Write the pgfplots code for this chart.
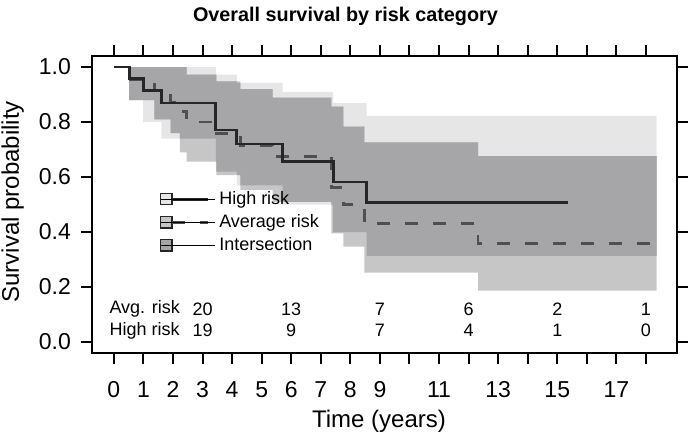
\documentclass[border=0pt]{standalone}
\usepackage{fontspec}
\setmainfont{Liberation Sans}
\usepackage{pgfplots}
\pgfplotsset{compat=1.18}
\usepgfplotslibrary{fillbetween}
\definecolor{lightc}{HTML}{E6E6E6}
\definecolor{medc}{HTML}{C6C6C6}
\definecolor{darkc}{HTML}{A6A6A8}
\definecolor{hic}{HTML}{262626}
\definecolor{avc}{HTML}{4F4F4F}
\begin{document}
\begin{tikzpicture}
\begin{axis}[
 at={(0pt,0pt)}, anchor=south west,
 scale only axis, width=292.5pt, height=148.5pt,
 xmin=-0.74, xmax=19.05, ymin=-0.04, ymax=1.04,
 xtick={0,...,18},
 xticklabels={0,1,2,3,4,5,6,7,8,9,,11,,13,,15,,17,},
 ytick={0,0.2,0.4,0.6,0.8,1.0},
 yticklabels={0.0,0.2,0.4,0.6,0.8,1.0},
 tick pos=both, tick align=outside,
 major tick length=5.5pt,
 every tick/.style={black, line width=1pt},
 axis line style={line width=1.3pt},
 ticklabel style={font=\fontsize{11.5}{13}\selectfont},
 xticklabel style={anchor=base, yshift=-16.5pt, text height=8pt, text depth=0pt},
 yticklabel style={xshift=-1.5pt},
 /pgf/number format/assume math mode=true,
 xlabel={Time (years)},
 xlabel style={at={(0.4906,-0.2525)}, anchor=base, font=\fontsize{12}{14}\selectfont},
 ylabel={Survival probability},
 ylabel style={at={(-0.1248,0.509)}, anchor=base, font=\fontsize{12}{14}\selectfont},
 legend style={at={(0.116,0.44)}, anchor=west, draw=none, fill=none, inner sep=0pt,
   font=\fontsize{9}{10}\selectfont, row sep=-0.5pt},
 legend cell align=left,
]
\addlegendimage{legend image code/.code={
  \draw[fill=lightc, draw=black!85, line width=0.6pt] (0pt,-2.8pt) rectangle (5.6pt,2.8pt);
  \draw[hic, line width=1.5pt] (5.6pt,0pt) -- (23.6pt,0pt);
  \path (0pt,0pt) -- (27pt,0pt);}}
\addlegendentry{High risk}
\addlegendimage{legend image code/.code={
  \draw[fill=medc, draw=black!85, line width=0.6pt] (0pt,-2.8pt) rectangle (5.6pt,2.8pt);
  \draw[avc, line width=1.5pt, dash pattern=on 6.5pt off 7.5pt] (5.6pt,0pt) -- (23.6pt,0pt);
  \path (0pt,0pt) -- (27pt,0pt);}}
\addlegendentry{Average risk}
\addlegendimage{legend image code/.code={
  \draw[fill=darkc, draw=black!85, line width=0.6pt] (0pt,-2.8pt) rectangle (5.6pt,2.8pt);
  \path (0pt,0pt) -- (27pt,0pt);}}
\addlegendentry{Intersection}

% High risk band
\addplot[forget plot, name path=uh, const plot, draw=none] coordinates {(0.52,1.0) (3.45,0.972) (4.16,0.942) (5.71,0.91) (7.42,0.869) (8.55,0.822) (18.36,0.822)};
\addplot[forget plot, name path=lh, const plot, draw=none] coordinates {(0.52,0.88) (0.99,0.80) (1.61,0.74) (3.45,0.62) (4.16,0.57) (5.71,0.50) (7.42,0.40) (8.55,0.313) (18.36,0.313)};
\addplot[forget plot, fill=lightc, draw=none] fill between[of=uh and lh];
% Average risk band
\addplot[forget plot, name path=ua, const plot, draw=none] coordinates {(0.52,1.0) (2.46,0.972) (3.47,0.948) (4.28,0.92) (5.37,0.889) (7.36,0.856) (7.76,0.783) (8.47,0.726) (12.32,0.676) (18.36,0.676)};
\addplot[forget plot, name path=la, const plot, draw=none] coordinates {(0.52,0.88) (1.37,0.81) (1.92,0.76) (2.23,0.69) (2.46,0.656) (3.47,0.607) (4.28,0.553) (5.37,0.51) (7.36,0.395) (7.76,0.347) (8.47,0.252) (12.32,0.187) (18.36,0.187)};
\addplot[forget plot, fill=medc, draw=none] fill between[of=ua and la];
% Intersection
\addplot[forget plot, name path=iu, const plot, draw=none] coordinates {(0.52,1.0) (2.46,0.972) (3.47,0.948) (4.16,0.942) (4.28,0.92) (5.37,0.889) (7.36,0.856) (7.76,0.783) (8.47,0.726) (12.32,0.676) (18.36,0.676)};
\addplot[forget plot, name path=il, const plot, draw=none] coordinates {(0.52,0.88) (1.37,0.81) (1.92,0.76) (2.23,0.74) (3.45,0.656) (3.47,0.62) (4.16,0.607) (4.28,0.57) (5.71,0.51) (7.36,0.50) (7.42,0.40) (8.55,0.313) (18.36,0.313)};
\addplot[forget plot, fill=darkc, draw=none] fill between[of=iu and il];

% Average risk KM
\addplot[forget plot, const plot, avc, line width=1.4pt, dash pattern=on 6.5pt off 7.5pt] coordinates {(0,1.0) (0.52,0.955) (1.37,0.914) (1.92,0.872) (2.23,0.839) (2.46,0.80) (3.47,0.758) (4.28,0.716) (5.37,0.674) (7.36,0.562) (7.76,0.50) (8.47,0.43) (12.32,0.357) (18.3,0.357)};
% High risk KM
\addplot[forget plot, const plot, hic, line width=1.4pt] coordinates {(0,1.0) (0.52,0.957) (0.99,0.914) (1.61,0.869) (3.45,0.771) (4.16,0.72) (5.71,0.655) (7.42,0.582) (8.55,0.507) (15.35,0.507)};

% numbers at risk
\addplot[forget plot, only marks, mark=none, nodes near coords, point meta=explicit symbolic,
  nodes near coords style={anchor=center, font=\fontsize{9}{10}\selectfont}] coordinates {
 (3,0.12) [20] (6,0.12) [13] (9,0.12) [7] (12,0.12) [6] (15,0.12) [2] (18,0.12) [1]
 (3,0.041) [19] (6,0.041) [9] (9,0.041) [7] (12,0.041) [4] (15,0.041) [1] (18,0.041) [0]};
\addplot[forget plot, only marks, mark=none, nodes near coords, point meta=explicit symbolic,
  nodes near coords style={anchor=west, inner sep=0pt, font=\fontsize{9}{10}\selectfont}] coordinates {
 (-0.16,0.12) [Avg. risk] (-0.16,0.041) [High risk]};
\end{axis}
\node[anchor=base, font=\bfseries\fontsize{9.9}{12}\selectfont] at (126.75pt,165.6pt) {Overall survival by risk category};
\pgfresetboundingbox
\useasboundingbox (-46pt,-40.5pt) rectangle (299.5pt,176.5pt);
\end{tikzpicture}
\end{document}
